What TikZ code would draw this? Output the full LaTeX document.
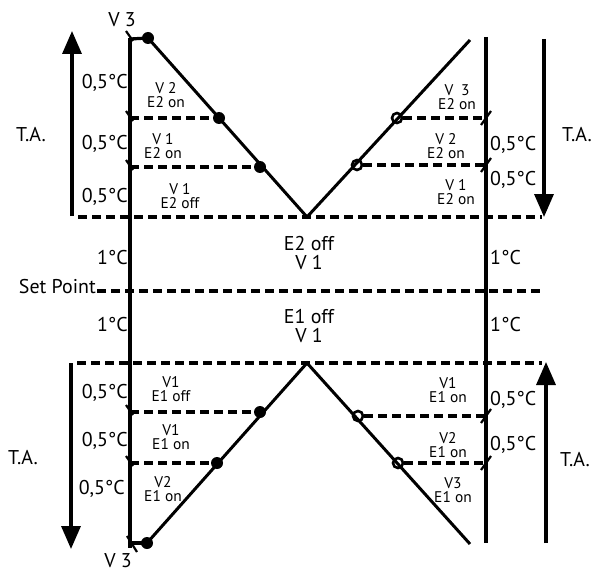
\documentclass[tikz,border=0pt]{standalone}
\usepackage{fontspec}
\setmainfont{PT Sans}
\usetikzlibrary{arrows.meta}
\tikzset{
  mainln/.style={line width=3.2bp},
  vln/.style={line width=3bp},
  dsh/.style={line width=3.2bp, dash pattern=on 8.5bp off 5.5bp},
  tick/.style={line width=2.2bp},
  big/.style={font=\fontsize{20}{20}\selectfont, inner sep=0pt, align=center},
  small/.style={font=\fontsize{15.5}{14.5}\selectfont, inner sep=0pt, align=center},
  fdot/.style={circle, fill=black, inner sep=0pt, minimum size=12bp},
  odot/.style={circle, draw=black, fill=white, line width=2.6bp, inner sep=0pt, minimum size=10bp},
  bigarrow/.style={line width=3.4bp, -{Triangle[width=19bp,length=23bp]}}
}
\begin{document}
\begin{tikzpicture}[x=1bp,y=-1bp]
\useasboundingbox (0,0) rectangle (595,573);
% coordinates
\coordinate (Ltop) at (130,38);
\coordinate (Lbot) at (130,548);
\coordinate (Rtop) at (486,37);
\coordinate (Rbot) at (486,543);
\coordinate (vtop) at (307,217);
\coordinate (vbot) at (307,363);
\coordinate (trEnd) at (470,40);
\coordinate (brEnd) at (470,544);
% dots
\node[fdot] (d3) at (148,38) {};
\node[fdot] (d2) at (219,118) {};
\node[fdot] (d1) at (260,167) {};
\node[odot] (o3) at (397,118) {};
\node[odot] (o2) at (357,165) {};
\node[fdot] (b1) at (260,412) {};
\node[fdot] (b2) at (217,463) {};
\node[fdot] (b3) at (147,543) {};
\node[odot] (p1) at (358,416) {};
\node[odot] (p2) at (398,463) {};
% main verticals
\draw[mainln] (Ltop) -- (Lbot);
\draw[mainln] (Rtop) -- (Rbot);
% V shapes
\draw[vln] (d3.center) -- (vtop) -- (trEnd);
\draw[vln] (b3.center) -- (vbot) -- (brEnd);
% dashed horizontals
\coordinate (h1a) at (78,217);  \coordinate (h1b) at (542,217);
\coordinate (h2a) at (97,291);  \coordinate (h2b) at (542,291);
\coordinate (h3a) at (77,363);  \coordinate (h3b) at (542,363);
\draw[dsh] (h1a) -- (h1b);
\draw[dsh] (h2a) -- (h2b);
\draw[dsh] (h3a) -- (h3b);
\draw[dsh] (130,118) -- (d2);
\draw[dsh] (130,167) -- (d1);
\draw[dsh] (o3) -- (486,118);
\draw[dsh] (o2) -- (486,165);
\draw[dsh] (130,412) -- (b1);
\draw[dsh] (130,463) -- (b2);
\draw[dsh] (p1) -- (486,416);
\draw[dsh] (p2) -- (486,463);
% short horizontals to end dots
\draw[mainln] (130,39) -- (d3.center);
\draw[mainln] (130,543) -- (b3.center);
% ticks left
\draw[tick] (126,31) -- (133,41);
\draw[tick] (126,111) -- (133,121);
\draw[tick] (126,160) -- (133,170);
\draw[tick] (126,405) -- (133,415);
\draw[tick] (126,456) -- (133,466);
\draw[tick] (127,536) -- (137,552);
% ticks right
\draw[tick] (481,125) -- (491,111);
\draw[tick] (481,172) -- (491,158);
\draw[tick] (481,423) -- (491,409);
\draw[tick] (481,470) -- (491,456);
% big arrows
\coordinate (a1s) at (72,216); \coordinate (a1e) at (72,31);
\coordinate (a2s) at (544,39); \coordinate (a2e) at (544,217);
\coordinate (a3s) at (71,363); \coordinate (a3e) at (71,549);
\coordinate (a4s) at (546,543); \coordinate (a4e) at (546,362);
\draw[bigarrow] (a1s) -- (a1e);
\draw[bigarrow] (a2s) -- (a2e);
\draw[bigarrow] (a3s) -- (a3e);
\draw[bigarrow] (a4s) -- (a4e);
% labels left top
\node[big] (v3t) at (122,20) {V 3};
\node[big,anchor=east] (l1) at (128,83) {0,5°C};
\node[big,anchor=east] (l2) at (128,144) {0,5°C};
\node[big,anchor=east] (l3) at (128,197) {0,5°C};
\node[big] (ta1) at (31,135) {T.A.};
\node[small] (s1) at (166,95) {V 2\\E2 on};
\node[small] (s2) at (163,146) {V 1\\E2 on};
\node[small] (s3) at (180,196) {V 1\\E2 off};
% right top
\node[small] (s4) at (457,97) {V\enspace 3\\E2 on};
\node[small] (s5) at (446,146) {V 2\\E2 on};
\node[small] (s6) at (456,192) {V 1\\E2 on};
\node[big,anchor=west] (r1) at (490,145) {0,5°C};
\node[big,anchor=west] (r2) at (490,180) {0,5°C};
\node[big] (ta2) at (577,135) {T.A.};
% middle
\node[big] (m1) at (309,253) {E2 off\\V 1};
\node[big] (m2) at (309,326) {E1 off\\V 1};
\node[big,anchor=east] (c1) at (128,258) {1°C};
\node[big,anchor=east] (c2) at (128,325) {1°C};
\node[big,anchor=west] (c3) at (490,258) {1°C};
\node[big,anchor=west] (c4) at (490,325) {1°C};
\node[big,anchor=east] (sp) at (96,287) {Set Point};
% bottom left
\node[big,anchor=east] (l4) at (128,393) {0,5°C};
\node[big,anchor=east] (l5) at (128,441) {0,5°C};
\node[big,anchor=east] (l6) at (125,489) {0,5°C};
\node[big] (ta3) at (23,458) {T.A.};
\node[small] (s7) at (171,389) {V1\\E1 off};
\node[small] (s8) at (171,437) {V1\\E1 on};
\node[small] (s9) at (163,489) {V2\\E1 on};
\node[big] (v3b) at (118,561) {V 3};
% bottom right
\node[small] (s10) at (448,390) {V1\\E1 on};
\node[small] (s11) at (448,445) {V2\\E1 on};
\node[small] (s12) at (453,490) {V3\\E1 on};
\node[big,anchor=west] (r3) at (490,400) {0,5°C};
\node[big,anchor=west] (r4) at (490,445) {0,5°C};
\node[big] (ta4) at (575,460) {T.A.};
\end{tikzpicture}
\end{document}
